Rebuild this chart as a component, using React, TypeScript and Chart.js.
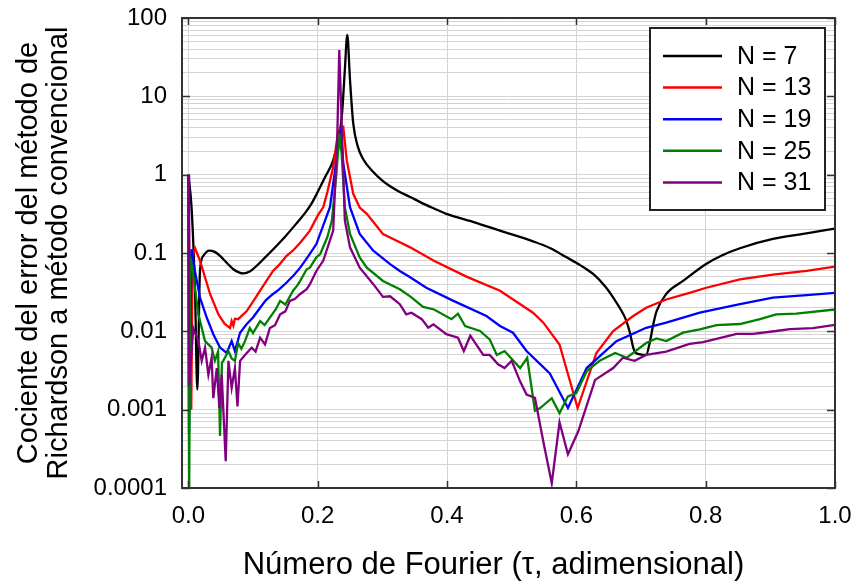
import React, { useEffect, useRef } from "react";
import { Chart, registerables } from "chart.js";

Chart.register(...registerables);

const seriesLabels = ["N = 7", "N = 13", "N = 19", "N = 25", "N = 31"];
const seriesColors = ["#000000", "#ff0000", "#0000ff", "#008000", "#800080"];

const n7: number[][] = [
  [0, 1], [0.005, 0.38], [0.0104, 0.03], [0.0139, 0.0018], [0.018, 0.059], [0.0232, 0.092],
  [0.032, 0.107], [0.04, 0.104], [0.049, 0.092], [0.06, 0.074], [0.0696, 0.062], [0.085, 0.0548],
  [0.095, 0.058], [0.1057, 0.0687], [0.12, 0.09], [0.1366, 0.124], [0.152, 0.17], [0.1675, 0.24],
  [0.18, 0.32], [0.19, 0.42], [0.2, 0.6], [0.212, 0.95], [0.224, 1.52], [0.234, 3.4], [0.238, 6.5],
  [0.242, 21.7], [0.2458, 61], [0.25, 16.2], [0.255, 4.5], [0.262, 2.3], [0.27, 1.6], [0.286, 1.08],
  [0.3, 0.84], [0.312, 0.71], [0.327, 0.6], [0.343, 0.52], [0.36, 0.44], [0.38, 0.37], [0.399, 0.316],
  [0.44, 0.25], [0.482, 0.193], [0.533, 0.141], [0.56, 0.115], [0.585, 0.088], [0.606, 0.07],
  [0.626, 0.054], [0.645, 0.037], [0.657, 0.027], [0.667, 0.02], [0.676, 0.0145], [0.683, 0.0095],
  [0.688, 0.0062], [0.692, 0.0053], [0.708, 0.005], [0.714, 0.0075], [0.719, 0.0123], [0.724, 0.018],
  [0.739, 0.03], [0.765, 0.044], [0.8, 0.072], [0.825, 0.093], [0.853, 0.115], [0.904, 0.151],
  [0.956, 0.178], [1.0, 0.205],
];

const n13: number[][] = [
  [0, 1], [0.0045, 0.001], [0.0065, 0.09], [0.0104, 0.115], [0.018, 0.08], [0.0336, 0.03],
  [0.0464, 0.0165], [0.056, 0.0125], [0.0645, 0.011], [0.067, 0.0135], [0.0696, 0.0118],
  [0.072, 0.0145], [0.077, 0.0143], [0.09, 0.018], [0.1, 0.024], [0.111, 0.033], [0.12, 0.043],
  [0.131, 0.059], [0.14, 0.07], [0.152, 0.092], [0.163, 0.11], [0.173, 0.135], [0.188, 0.193],
  [0.2, 0.3], [0.2087, 0.385], [0.215, 0.6], [0.224, 1.25], [0.232, 3.7], [0.2396, 4.07],
  [0.245, 1.52], [0.255, 0.57], [0.265, 0.38], [0.276, 0.316], [0.301, 0.175], [0.327, 0.137],
  [0.343, 0.118], [0.379, 0.08], [0.43, 0.05], [0.482, 0.033], [0.533, 0.0173], [0.549, 0.0129],
  [0.574, 0.0068], [0.602, 0.00105], [0.631, 0.0053], [0.657, 0.0101], [0.688, 0.0157],
  [0.708, 0.02], [0.739, 0.0255], [0.775, 0.031], [0.801, 0.036], [0.853, 0.046], [0.904, 0.053],
  [0.956, 0.059], [1.0, 0.067],
];

const n19: number[][] = [
  [0, 1], [0.001, 0.0005], [0.005, 0.112], [0.01, 0.06], [0.018, 0.027], [0.0284, 0.015],
  [0.0386, 0.0092], [0.049, 0.0062], [0.0593, 0.0053], [0.067, 0.0075], [0.072, 0.0056],
  [0.08, 0.0096], [0.09, 0.0123], [0.1, 0.015], [0.111, 0.02], [0.12, 0.025], [0.131, 0.03],
  [0.14, 0.034], [0.152, 0.042], [0.163, 0.052], [0.173, 0.065], [0.185, 0.09], [0.198, 0.13],
  [0.219, 0.385], [0.229, 1.52], [0.236, 3.5], [0.2396, 1.39], [0.25, 0.385], [0.265, 0.175],
  [0.286, 0.107], [0.312, 0.072], [0.327, 0.059], [0.343, 0.049], [0.368, 0.036], [0.41, 0.0245],
  [0.461, 0.0157], [0.482, 0.0117], [0.502, 0.0096], [0.523, 0.0056], [0.559, 0.0029],
  [0.587, 0.00105], [0.616, 0.0034], [0.662, 0.0075], [0.708, 0.0111], [0.739, 0.0129],
  [0.791, 0.0173], [0.853, 0.0222], [0.904, 0.027], [0.956, 0.029], [1.0, 0.031],
];

const n25: number[][] = [
  [0, 1], [0.0012, 0.00005], [0.003, 0.09], [0.0068, 0.059], [0.0155, 0.0165], [0.0258, 0.0075],
  [0.036, 0.0062], [0.041, 0.0042], [0.046, 0.0055], [0.049, 0.00046], [0.052, 0.004],
  [0.054, 0.0042], [0.062, 0.0056], [0.067, 0.0045], [0.072, 0.0042], [0.077, 0.0071],
  [0.082, 0.006], [0.0876, 0.0075], [0.095, 0.011], [0.1, 0.0095], [0.111, 0.0135], [0.118, 0.012],
  [0.126, 0.015], [0.135, 0.019], [0.142, 0.0245], [0.15, 0.022], [0.162, 0.033], [0.168, 0.038],
  [0.173, 0.044], [0.183, 0.062], [0.188, 0.065], [0.198, 0.088], [0.204, 0.097], [0.215, 0.16],
  [0.222, 0.26], [0.229, 1.03], [0.2335, 3.4], [0.237, 1.86], [0.242, 0.385], [0.25, 0.175],
  [0.265, 0.088], [0.276, 0.065], [0.301, 0.044], [0.327, 0.0345], [0.343, 0.028], [0.363, 0.0205],
  [0.38, 0.019], [0.407, 0.0143], [0.417, 0.0168], [0.428, 0.0117], [0.451, 0.0101], [0.466, 0.0079],
  [0.477, 0.005], [0.489, 0.0056], [0.513, 0.0034], [0.524, 0.0046], [0.536, 0.00097],
  [0.544, 0.00105], [0.562, 0.0014], [0.574, 0.0009], [0.587, 0.00148], [0.6, 0.00163],
  [0.616, 0.0031], [0.636, 0.0042], [0.66, 0.0053], [0.678, 0.0046], [0.708, 0.0071],
  [0.724, 0.0081], [0.739, 0.0075], [0.765, 0.0096], [0.791, 0.0106], [0.817, 0.012],
  [0.853, 0.0124], [0.884, 0.0143], [0.909, 0.0165], [0.94, 0.0168], [1.0, 0.019],
];

const n31: number[][] = [
  [0, 1], [0.001, 0.002], [0.0077, 0.011], [0.0155, 0.0075], [0.0207, 0.0042], [0.0258, 0.0062],
  [0.031, 0.0028], [0.036, 0.0046], [0.0386, 0.0014], [0.044, 0.0034], [0.048, 0.00105],
  [0.0516, 0.0028], [0.0578, 0.00022], [0.062, 0.0042], [0.067, 0.0019], [0.072, 0.0034],
  [0.076, 0.0011], [0.08, 0.0042], [0.0876, 0.005], [0.098, 0.0062], [0.104, 0.0055],
  [0.111, 0.0083], [0.1186, 0.0068], [0.126, 0.011], [0.134, 0.012], [0.142, 0.0165], [0.15, 0.018],
  [0.157, 0.0245], [0.165, 0.026], [0.173, 0.03], [0.183, 0.0345], [0.188, 0.04], [0.198, 0.059],
  [0.2087, 0.08], [0.224, 0.193], [0.2303, 3.0], [0.2334, 39], [0.237, 5], [0.242, 0.26],
  [0.25, 0.118], [0.265, 0.065], [0.286, 0.04], [0.301, 0.0275], [0.312, 0.028], [0.327, 0.0222],
  [0.337, 0.0165], [0.345, 0.0173], [0.361, 0.0143], [0.371, 0.0111], [0.379, 0.0123],
  [0.399, 0.0092], [0.417, 0.0083], [0.426, 0.0056], [0.436, 0.0088], [0.456, 0.005], [0.466, 0.005],
  [0.479, 0.0038], [0.489, 0.0034], [0.5, 0.0042], [0.513, 0.0023], [0.523, 0.00156],
  [0.536, 0.00142], [0.549, 0.00039], [0.562, 0.000115], [0.574, 0.00069], [0.587, 0.00027],
  [0.603, 0.00053], [0.629, 0.0024], [0.657, 0.0034], [0.672, 0.0046], [0.69, 0.0042],
  [0.708, 0.005], [0.739, 0.0055], [0.775, 0.0069], [0.796, 0.0073], [0.848, 0.0093],
  [0.873, 0.0093], [0.909, 0.0101], [0.93, 0.0107], [0.966, 0.011], [1.0, 0.0121],
];

const seriesData = [n7, n13, n19, n25, n31];

const xTicks = [0, 0.2, 0.4, 0.6, 0.8, 1.0];
const xTickLabels = ["0.0", "0.2", "0.4", "0.6", "0.8", "1.0"];
const yMajor = [0.0001, 0.001, 0.01, 0.1, 1, 10, 100];
const yTickLabels = ["0.0001", "0.001", "0.01", "0.1", "1", "10", "100"];
const xTitle = "Número de Fourier (τ, adimensional)";
const yTitle = ["Cociente del error del método de", "Richardson a método convencional"];

const FONT = "'Liberation Sans', Arial, Helvetica, sans-serif";

function buildYTicks() {
  const out: { value: number; major: boolean }[] = [];
  for (let i = 0; i < yMajor.length; i++) {
    out.push({ value: yMajor[i], major: true });
    if (i < yMajor.length - 1) {
      for (let m = 2; m <= 9; m++) out.push({ value: m * yMajor[i], major: false });
    }
  }
  return out;
}

const framePlugin = {
  id: "frameTicks",
  afterDatasetsDraw(chart: any) {
    const { ctx, chartArea, scales } = chart;
    const { left, right, top, bottom } = chartArea;
    ctx.save();
    ctx.strokeStyle = "#333333";
    ctx.lineWidth = 1.5;
    ctx.beginPath();
    xTicks.forEach((v) => {
      const px = Math.round(scales.x.getPixelForValue(v)) + 0.5;
      ctx.moveTo(px, bottom);
      ctx.lineTo(px, bottom - 7);
      ctx.moveTo(px, top);
      ctx.lineTo(px, top + 7);
    });
    yMajor.forEach((v) => {
      const py = Math.round(scales.y.getPixelForValue(v)) + 0.5;
      ctx.moveTo(left, py);
      ctx.lineTo(left + 8, py);
      ctx.moveTo(right, py);
      ctx.lineTo(right - 8, py);
    });
    ctx.stroke();
    ctx.lineWidth = 2;
    ctx.strokeRect(left, top, right - left, bottom - top);
    ctx.restore();
  },
};

const xTitlePlugin = {
  id: "xTitleText",
  afterDraw(chart: any) {
    const { ctx, chartArea } = chart;
    ctx.save();
    ctx.fillStyle = "#000000";
    ctx.font = `31px ${FONT}`;
    ctx.textAlign = "center";
    ctx.textBaseline = "alphabetic";
    ctx.fillText(xTitle, (chartArea.left + chartArea.right) / 2 - 15, 574);
    ctx.restore();
  },
};

const legendPlugin = {
  id: "boxLegend",
  afterDraw(chart: any) {
    const { ctx, chartArea } = chart;
    const bx = chartArea.right - 185;
    const by = chartArea.top + 10;
    const bw = 175;
    const bh = 182;
    ctx.save();
    ctx.fillStyle = "#ffffff";
    ctx.fillRect(bx, by, bw, bh);
    ctx.strokeStyle = "#222222";
    ctx.lineWidth = 2;
    ctx.strokeRect(bx, by, bw, bh);
    chart.data.datasets.forEach((ds: any, i: number) => {
      const y = by + 28 + i * 31.6;
      ctx.strokeStyle = ds.borderColor;
      ctx.lineWidth = 2.5;
      ctx.beginPath();
      ctx.moveTo(bx + 13, y);
      ctx.lineTo(bx + 72, y);
      ctx.stroke();
      ctx.fillStyle = "#000000";
      ctx.font = `25px ${FONT}`;
      ctx.textAlign = "left";
      ctx.textBaseline = "middle";
      ctx.fillText(ds.label, bx + 87, y + 1);
    });
    ctx.restore();
  },
};

export default function App() {
  const canvasRef = useRef<HTMLCanvasElement | null>(null);

  useEffect(() => {
    if (!canvasRef.current) return;
    const datasets = seriesData.map((d, i) => ({
      label: seriesLabels[i],
      data: d.map((p) => ({ x: p[0], y: p[1] })),
      borderColor: seriesColors[i],
      backgroundColor: seriesColors[i],
      borderWidth: 2.3,
      pointRadius: 0,
      fill: false,
      tension: 0,
      cubicInterpolationMode: i === 0 ? "monotone" : "default",
      order: seriesData.length - 1 - i,
    }));

    const chart = new Chart(canvasRef.current, {
      type: "line",
      data: { datasets } as any,
      options: {
        animation: false,
        responsive: false,
        devicePixelRatio: 1,
        layout: { padding: { top: 18, right: 20, bottom: 0, left: 0 } },
        plugins: { legend: { display: false }, tooltip: { enabled: false } },
        scales: {
          x: {
            type: "linear",
            min: -0.0098,
            max: 1.0,
            afterBuildTicks: (scale: any) => {
              scale.ticks = xTicks.map((v) => ({ value: v }));
            },
            afterFit: (scale: any) => {
              scale.height = 96;
              scale.paddingLeft = 0;
              scale.paddingRight = 0;
            },
            ticks: {
              autoSkip: false,
              maxRotation: 0,
              padding: 14,
              color: "#000000",
              font: { size: 24, family: FONT },
              callback: (v: any) => {
                const idx = xTicks.findIndex((t) => Math.abs(t - Number(v)) < 1e-9);
                return idx >= 0 ? xTickLabels[idx] : "";
              },
            },
            grid: { color: "#d4d4d4", lineWidth: 1, drawTicks: false },
            border: { display: false },
            title: { display: false },
          },
          y: {
            type: "logarithmic",
            min: 0.0001,
            max: 100,
            afterBuildTicks: (scale: any) => {
              scale.ticks = buildYTicks();
            },
            afterFit: (scale: any) => {
              scale.width = 182;
              scale.paddingTop = 0;
              scale.paddingBottom = 0;
            },
            ticks: {
              autoSkip: false,
              padding: 15,
              color: "#000000",
              font: { size: 24, family: FONT },
              callback: (v: any) => {
                const idx = yMajor.findIndex((t) => Math.abs(Math.log10(t) - Math.log10(Number(v))) < 1e-6);
                return idx >= 0 ? yTickLabels[idx] : "";
              },
            },
            grid: { color: "#d4d4d4", lineWidth: 1, drawTicks: false },
            border: { display: false },
            title: {
              display: true,
              text: yTitle,
              color: "#000000",
              font: { size: 29, family: FONT, lineHeight: 1.03 },
              padding: { top: 14, bottom: 0 },
            },
          },
        },
      } as any,
      plugins: [framePlugin, legendPlugin, xTitlePlugin],
    });

    return () => chart.destroy();
  }, []);

  return (
    <div style={{ position: "absolute", left: 0, top: 0, width: 855, height: 584, background: "#ffffff" }}>
      <canvas ref={canvasRef} width={855} height={584} style={{ display: "block" }} />
    </div>
  );
}
